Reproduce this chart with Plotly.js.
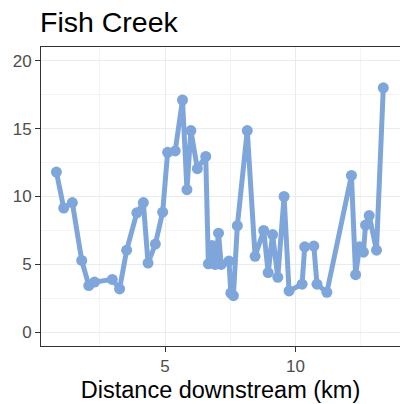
<!DOCTYPE html>
<html>
<head>
<meta charset="utf-8">
<script src="https://cdn.plot.ly/plotly-3.0.1.min.js"></script>
<style>
  html, body { margin: 0; padding: 0; background: #ffffff; }
  #chart { width: 400px; height: 404px; }
</style>
</head>
<body>
<div id="chart"></div>
<script>
// Sampling sites along Fish Creek: distance downstream (km) and measured value
const distanceKm = [
  0.84, 1.12, 1.45, 1.81, 2.08, 2.30, 2.98, 3.26, 3.53, 3.92,
  4.17, 4.35, 4.63, 4.91, 5.10, 5.39, 5.67, 5.84, 5.99, 6.24,
  6.56, 6.66, 6.80, 6.92, 7.05, 7.15, 7.45, 7.52, 7.62, 7.77,
  8.15, 8.45, 8.78, 8.95, 9.12, 9.32, 9.56, 9.75, 10.25, 10.35,
  10.70, 10.82, 11.20, 12.14, 12.30, 12.45, 12.60, 12.68, 12.82, 13.10,
  13.36
];
const values = [
  11.8, 9.15, 9.55, 5.3, 3.45, 3.7, 3.9, 3.2, 6.05, 8.8,
  9.55, 5.1, 6.5, 8.85, 13.25, 13.35, 17.1, 10.5, 14.85, 12.05,
  12.95, 5.05, 6.4, 5.0, 7.3, 5.0, 5.25, 2.9, 2.7, 7.85,
  14.85, 5.6, 7.5, 4.4, 7.2, 4.05, 10.0, 3.05, 3.55, 6.3,
  6.35, 3.55, 2.95, 11.55, 4.25, 6.3, 5.9, 7.9, 8.6, 6.05,
  18.0
];
const yTicks = [0, 5, 10, 15, 20];
const xTicks = [5, 10];

const lineColor = '#7fa6da';
const fontFamily = '"Liberation Sans", Arial, sans-serif';

const trace = {
  x: distanceKm,
  y: values,
  type: 'scatter',
  mode: 'lines+markers',
  line: { color: lineColor, width: 5 },
  marker: { color: lineColor, size: 11 },
  hoverinfo: 'x+y'
};

const layout = {
  width: 400,
  height: 404,
  margin: { l: 41, r: 0, t: 47, b: 58 },
  paper_bgcolor: '#ffffff',
  plot_bgcolor: '#ffffff',
  showlegend: false,
  font: { family: fontFamily, color: '#1a1a1a' },
  title: {
    text: 'Fish Creek',
    font: { family: fontFamily, size: 28.5, color: '#000000' },
    xref: 'container', x: 0.1, xanchor: 'left',
    yref: 'container', y: 0.945, yanchor: 'middle'
  },
  xaxis: {
    range: [0.25, 14.0],
    tickvals: xTicks,
    ticktext: xTicks.map(String),
    ticks: 'outside', ticklen: 5, tickwidth: 1, tickcolor: '#333333',
    tickfont: { family: fontFamily, size: 17, color: '#4d4d4d' },
    showgrid: true, gridcolor: '#ebebeb', gridwidth: 1,
    minor: { tickvals: [2.5, 7.5, 12.5], showgrid: true, gridcolor: '#f4f4f4', gridwidth: 1, ticks: '' },
    zeroline: false,
    showline: true, mirror: true, linecolor: '#333333', linewidth: 1,
    title: { text: 'Distance downstream (km)', font: { family: fontFamily, size: 23.5, color: '#000000' }, standoff: 6 }
  },
  yaxis: {
    range: [-1, 21],
    tickvals: yTicks,
    ticktext: yTicks.map(String),
    ticks: 'outside', ticklen: 5, tickwidth: 1, tickcolor: '#333333',
    tickfont: { family: fontFamily, size: 17, color: '#4d4d4d' },
    showgrid: true, gridcolor: '#ebebeb', gridwidth: 1,
    minor: { tickvals: [2.5, 7.5, 12.5, 17.5], showgrid: true, gridcolor: '#f4f4f4', gridwidth: 1, ticks: '' },
    zeroline: false,
    showline: true, mirror: false, linecolor: '#333333', linewidth: 1
  }
};

Plotly.newPlot('chart', [trace], layout, { displayModeBar: false, staticPlot: true });
</script>
</body>
</html>
